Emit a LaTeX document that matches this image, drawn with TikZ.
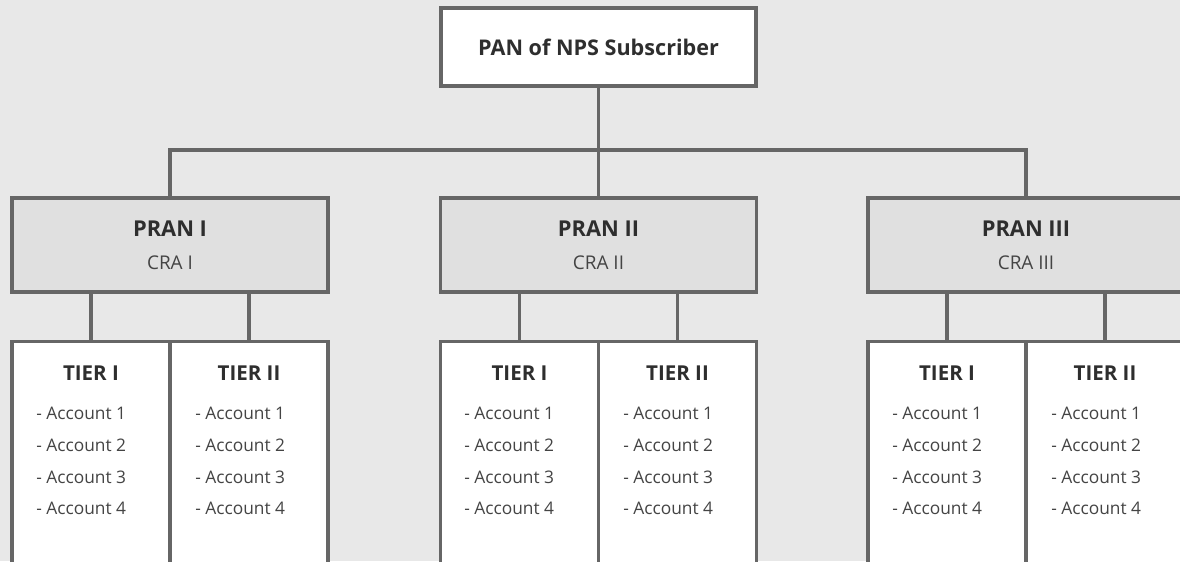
\documentclass[tikz,border=0pt]{standalone}
\usepackage{fontspec}
\setmainfont{Open Sans}
\definecolor{bggray}{HTML}{E8E8E8}
\definecolor{prangray}{HTML}{E0E0E0}
\definecolor{edgegray}{HTML}{666666}
\definecolor{titletext}{HTML}{2E2E2E}
\definecolor{bodytext}{HTML}{444444}
\tikzstyle{link}=[draw=edgegray, line width=2.4pt]
\tikzstyle{box}=[draw=edgegray, line width=2.4pt, inner sep=0]
\tikzstyle{panbox}=[box, fill=white, minimum width=236.25pt, minimum height=58.5pt, text=titletext, font=\fontsize{16.2}{19}\selectfont\bfseries]
\tikzstyle{pranbox}=[box, fill=prangray, minimum width=237pt, minimum height=70.5pt, align=center, text=bodytext, font=\fontsize{14.2}{24.5}\selectfont]
\tikzstyle{tierbox}=[box, fill=white, minimum width=118.5pt, minimum height=179pt]
\tikzstyle{tiertitle}=[anchor=base, inner sep=0, text=titletext, font=\fontsize{15.4}{18}\selectfont\bfseries]
\tikzstyle{accounts}=[anchor=north west, inner sep=0, align=left, text=bodytext, font=\fontsize{13}{23.8}\selectfont]

\begin{document}
\begin{tikzpicture}[x=0.75pt, y=-0.75pt]

\fill [bggray] (0, 0) rectangle (1180, 561);
\useasboundingbox (0, 0) rectangle (1180, 561);
\clip (0, 0) rectangle (1180, 561);

\node [panbox] (pan) at (598.5, 47) {PAN of NPS Subscriber};

\node [pranbox] (pran1) at ( 170, 245) {{\fontsize{16.4}{24.5}\selectfont\bfseries\color{titletext}PRAN I}\\CRA I};
\node [pranbox] (pran2) at (598.5, 245) {{\fontsize{16.4}{24.5}\selectfont\bfseries\color{titletext}PRAN II}\\CRA II};
\node [pranbox] (pran3) at (1026, 245) {{\fontsize{16.4}{24.5}\selectfont\bfseries\color{titletext}PRAN III}\\CRA III};

\coordinate (hub) at (598.5, 150);

\draw [link] (pan) -- (pran2);
\draw [link] (pran1) |- (hub) -| (pran3);

% tier boxes
\node [tierbox] (t11) at (  91, 460.5) {};
\node [tierbox] (t12) at ( 249, 460.5) {};
\node [tierbox] (t21) at (519.5, 460.5) {};
\node [tierbox] (t22) at (677.5, 460.5) {};
\node [tierbox] (t31) at ( 947, 460.5) {};
\node [tierbox] (t32) at (1105, 460.5) {};

\draw [link] (pran1.south -| t11) -- (t11);
\draw [link] (pran1.south -| t12) -- (t12);
\draw [link] (pran2.south -| t21) -- (t21);
\draw [link] (pran2.south -| t22) -- (t22);
\draw [link] (pran3.south -| t31) -- (t31);
\draw [link] (pran3.south -| t32) -- (t32);

\node [tiertitle] (h11) at (  91, 380) {TIER I};
\node [tiertitle] (h12) at ( 249, 380) {TIER II};
\node [tiertitle] (h21) at (519.5, 380) {TIER I};
\node [tiertitle] (h22) at (677.5, 380) {TIER II};
\node [tiertitle] (h31) at ( 947, 380) {TIER I};
\node [tiertitle] (h32) at (1105, 380) {TIER II};

\node [accounts] (a11) at (  36, 407) {- Account 1\\- Account 2\\- Account 3\\- Account 4};
\node [accounts] (a12) at ( 195, 407) {- Account 1\\- Account 2\\- Account 3\\- Account 4};
\node [accounts] (a21) at ( 464, 407) {- Account 1\\- Account 2\\- Account 3\\- Account 4};
\node [accounts] (a22) at ( 623, 407) {- Account 1\\- Account 2\\- Account 3\\- Account 4};
\node [accounts] (a31) at ( 892, 407) {- Account 1\\- Account 2\\- Account 3\\- Account 4};
\node [accounts] (a32) at (1051, 407) {- Account 1\\- Account 2\\- Account 3\\- Account 4};

\end{tikzpicture}
\end{document}
